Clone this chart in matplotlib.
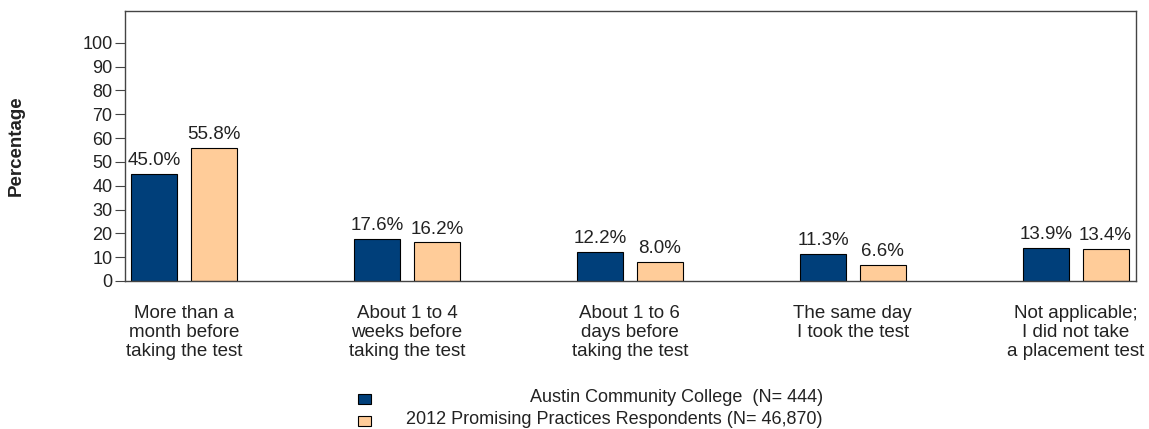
import numpy as np
import matplotlib.pyplot as plt

plt.rcParams['font.family'] = ['Liberation Sans', 'DejaVu Sans']

categories = ["More than a\nmonth before\ntaking the test",
              "About 1 to 4\nweeks before\ntaking the test",
              "About 1 to 6\ndays before\ntaking the test",
              "The same day\nI took the test",
              "Not applicable;\nI did not take\na placement test"]
college = [45.0, 17.6, 12.2, 11.3, 13.9]
national = [55.8, 16.2, 8.0, 6.6, 13.4]
series_names = ["Austin Community College  (N= 444)",
                "2012 Promising Practices Respondents (N= 46,870)"]
colors = ["#003f7a", "#ffcc99"]

fig = plt.figure(figsize=(11.49, 4.29), dpi=100)
ax = fig.add_axes([0.1088, 0.345, 0.88, 0.6294])

x = np.arange(len(categories))
off = 0.134
w = 0.206
for vals, dx, c in [(college, -off, colors[0]), (national, off, colors[1])]:
    bars = ax.bar(x + dx, vals, w, color=c, edgecolor='black', linewidth=0.8)
    for b, v in zip(bars, vals):
        ax.text(b.get_x() + b.get_width() / 2, v + 2.0, f"{v:.1f}%",
                ha='center', va='bottom', fontsize=13.5, color='#222222')

ax.set_xlim(-0.265, 4.271)
ax.set_ylim(0, 113.3)
ax.set_yticks(range(0, 101, 10))
ax.set_xticks(x)
ax.set_xticklabels(categories, fontsize=13.5, linespacing=1.17, color='#222222')
ax.tick_params(axis='x', length=0, pad=17)
ax.tick_params(axis='y', length=7, labelsize=13, pad=2, color='#444444', labelcolor='#222222')
for s in ax.spines.values():
    s.set_color('#444444')
    s.set_linewidth(1.0)
ax.set_ylabel("Percentage", fontweight='bold', fontsize=13.5, color='#222222')
ax.yaxis.set_label_coords(-0.099, 0.5)

# legend drawn manually below the chart
ly = [1 - 399 / 429, 1 - 421 / 429]
for name, c, yy in zip(series_names, colors, ly):
    fig.patches.append(plt.Rectangle((358 / 1149, yy - 5 / 429), 13 / 1149, 10 / 429,
                                     transform=fig.transFigure, facecolor=c,
                                     edgecolor='black', linewidth=0.8))
    fig.text(823 / 1149, yy + 1 / 429, name, ha='right', va='center', fontsize=13, color='#222222')

fig.savefig("out.png", dpi=100)
